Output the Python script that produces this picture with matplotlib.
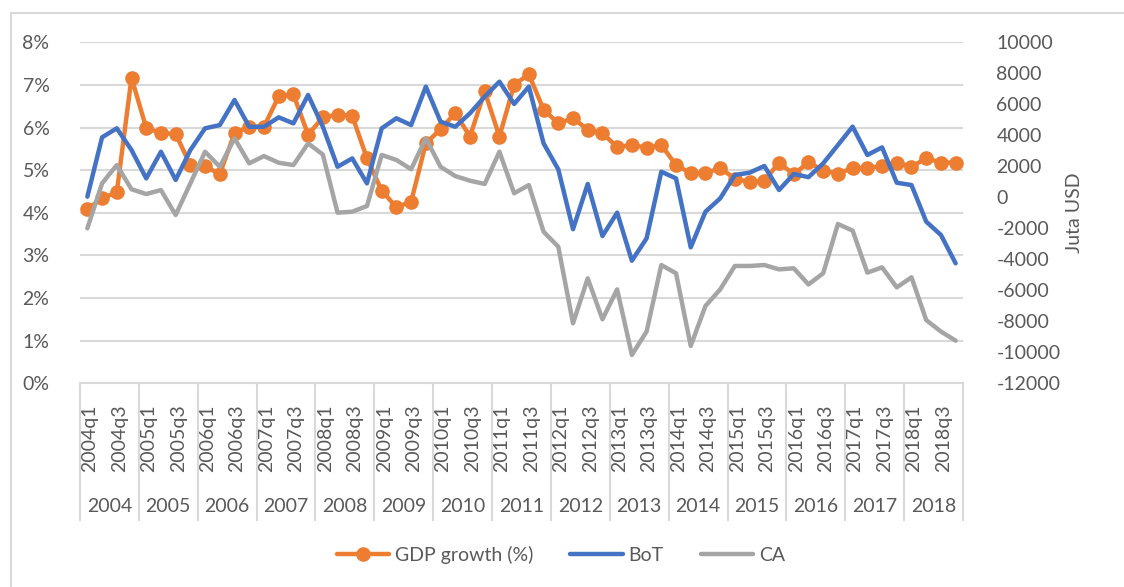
import matplotlib
matplotlib.use("Agg")
import matplotlib.pyplot as plt
from matplotlib.lines import Line2D
from matplotlib.ticker import FuncFormatter, MultipleLocator
import matplotlib.transforms as mtransforms

plt.rcParams['font.family'] = ['Lato', 'DejaVu Sans']

years = list(range(2004, 2019))
quarters = [f"{y}q{q}" for y in years for q in range(1, 5)]

gdp = [4.09, 4.34, 4.48, 7.17,
       5.99, 5.87, 5.85, 5.12,
       5.09, 4.91, 5.87, 6.02,
       6.02, 6.73, 6.78, 5.83,
       6.24, 6.30, 6.27, 5.28,
       4.52, 4.13, 4.26, 5.63,
       5.96, 6.34, 5.79, 6.85,
       5.79, 7.00, 7.25, 6.42,
       6.10, 6.22, 5.95, 5.87,
       5.54, 5.59, 5.53, 5.59,
       5.12, 4.93, 4.93, 5.05,
       4.80, 4.72, 4.75, 5.18,
       4.90, 5.19, 4.99, 4.92,
       5.05, 5.05, 5.10, 5.18,
       5.08, 5.28, 5.18, 5.18]

bot = [40, 3870, 4450, 3050,
       1220, 2940, 1120, 3050,
       4450, 4660, 6280, 4550,
       4550, 5160, 4770, 6600,
       4560, 1970, 2510, 900,
       4450, 5100, 4660, 7140,
       4880, 4550, 5420, 6490,
       7460, 6020, 7140, 3480,
       1800, -2060, 860, -2500,
       -990, -4090, -2650, 1650,
       1220, -3230, -930, -70,
       1440, 1590, 2020, 470,
       1500, 1300, 2190, 3370,
       4560, 2730, 3220, 940,
       790, -1570, -2430, -4260]

ca = [-2000, 900, 2080, 520,
      210, 470, -1140, 900,
      2940, 1970, 3800, 2190,
      2660, 2230, 2080, 3480,
      2760, -990, -930, -560,
      2730, 2410, 1810, 3800,
      1970, 1370, 1070, 860,
      2940, 260, 790, -2220,
      -3190, -8130, -5230, -7870,
      -5940, -10170, -8660, -4370,
      -4900, -9590, -7010, -5940,
      -4430, -4430, -4370, -4650,
      -4580, -5620, -4900, -1720,
      -2150, -4860, -4520, -5810,
      -5160, -7920, -8660, -9250]

C_ORANGE = '#ED7D31'
C_BLUE = '#4472C4'
C_GREY = '#A5A5A5'
TXT = '#595959'
GRID = '#D9D9D9'
FS = 14

W, H = 1124, 587
fig = plt.figure(figsize=(W / 100, H / 100), dpi=100)
ax = fig.add_axes([80 / W, 1 - 383.3 / H, (963 - 80) / W, (383.3 - 42.3) / H])
ax2 = ax.twinx()

x = list(range(len(quarters)))
ax.plot(x, gdp, color=C_ORANGE, lw=3.2, marker='o', ms=9.5, label='GDP growth (%)',
        solid_capstyle='round', zorder=3)
l2, = ax2.plot(x, bot, color=C_BLUE, lw=3.2, label='BoT', solid_capstyle='round')
l3, = ax2.plot(x, ca, color=C_GREY, lw=3.2, label='CA', solid_capstyle='round')

ax.set_xlim(-0.5, len(quarters) - 0.5)
ax.set_ylim(0, 8)
ax2.set_ylim(-12000, 10000)
ax.yaxis.set_major_locator(MultipleLocator(1))
ax.yaxis.set_major_formatter(FuncFormatter(lambda v, p: f"{v:.0f}%"))
ax2.yaxis.set_major_locator(MultipleLocator(2000))
ax2.yaxis.set_major_formatter(FuncFormatter(lambda v, p: f"{v:.0f}"))

ax.grid(axis='y', color=GRID, lw=1.5)
ax.set_axisbelow(True)
for a in (ax, ax2):
    for s in ('left', 'right', 'top'):
        a.spines[s].set_visible(False)
    a.spines['bottom'].set_color(GRID)
    a.spines['bottom'].set_linewidth(1.5)
ax2.spines['bottom'].set_visible(False)

ax.tick_params(axis='y', length=0, pad=22, labelsize=FS, labelcolor=TXT)
ax2.tick_params(axis='y', length=0, pad=24, labelsize=FS, labelcolor=TXT)
ax2.set_ylabel('Juta USD', fontsize=FS, color=TXT, labelpad=4)

ax.set_xticks(x)
ax.set_xticklabels([q if i % 2 == 0 else '' for i, q in enumerate(quarters)],
                   rotation=90, fontsize=FS, color=TXT)
ax.tick_params(axis='x', length=0, pad=15)
shift = mtransforms.ScaledTranslation(2.5 / 100, 0, fig.dpi_scale_trans)
for lab in ax.get_xticklabels():
    lab.set_transform(lab.get_transform() + shift)

trans = mtransforms.blended_transform_factory(ax.transData, ax.transAxes)
h_ax = (383.3 - 42.3)
sep_bottom = -(520 - 383.3) / h_ax
year_y = -(507 - 383.3) / h_ax
for k, y in enumerate(years):
    left = 4 * k - 0.5
    ax.plot([left, left], [0, sep_bottom], transform=trans, color=GRID, lw=1.5, clip_on=False)
    ax.text(left + 2, year_y, str(y), transform=trans, ha='center', va='center',
            fontsize=FS, color=TXT)
right = 4 * len(years) - 0.5
ax.plot([right, right], [0, sep_bottom], transform=trans, color=GRID, lw=1.5, clip_on=False)

h1, lb1 = ax.get_legend_handles_labels()
leg = fig.legend(h1 + [l2, l3], lb1 + ['BoT', 'CA'], loc='center', bbox_to_anchor=(561 / W, 1 - 555 / H),
                 ncol=3, frameon=False, fontsize=FS, handlelength=2.7, columnspacing=1.9,
                 handletextpad=0.3, labelcolor=TXT)

fig.add_artist(Line2D([11 / W, 11 / W], [0, 1 - 13 / H], color=GRID, lw=1.5))
fig.add_artist(Line2D([11 / W, 1], [1 - 13 / H, 1 - 13 / H], color=GRID, lw=1.5))

fig.savefig('out.png', dpi=100)
